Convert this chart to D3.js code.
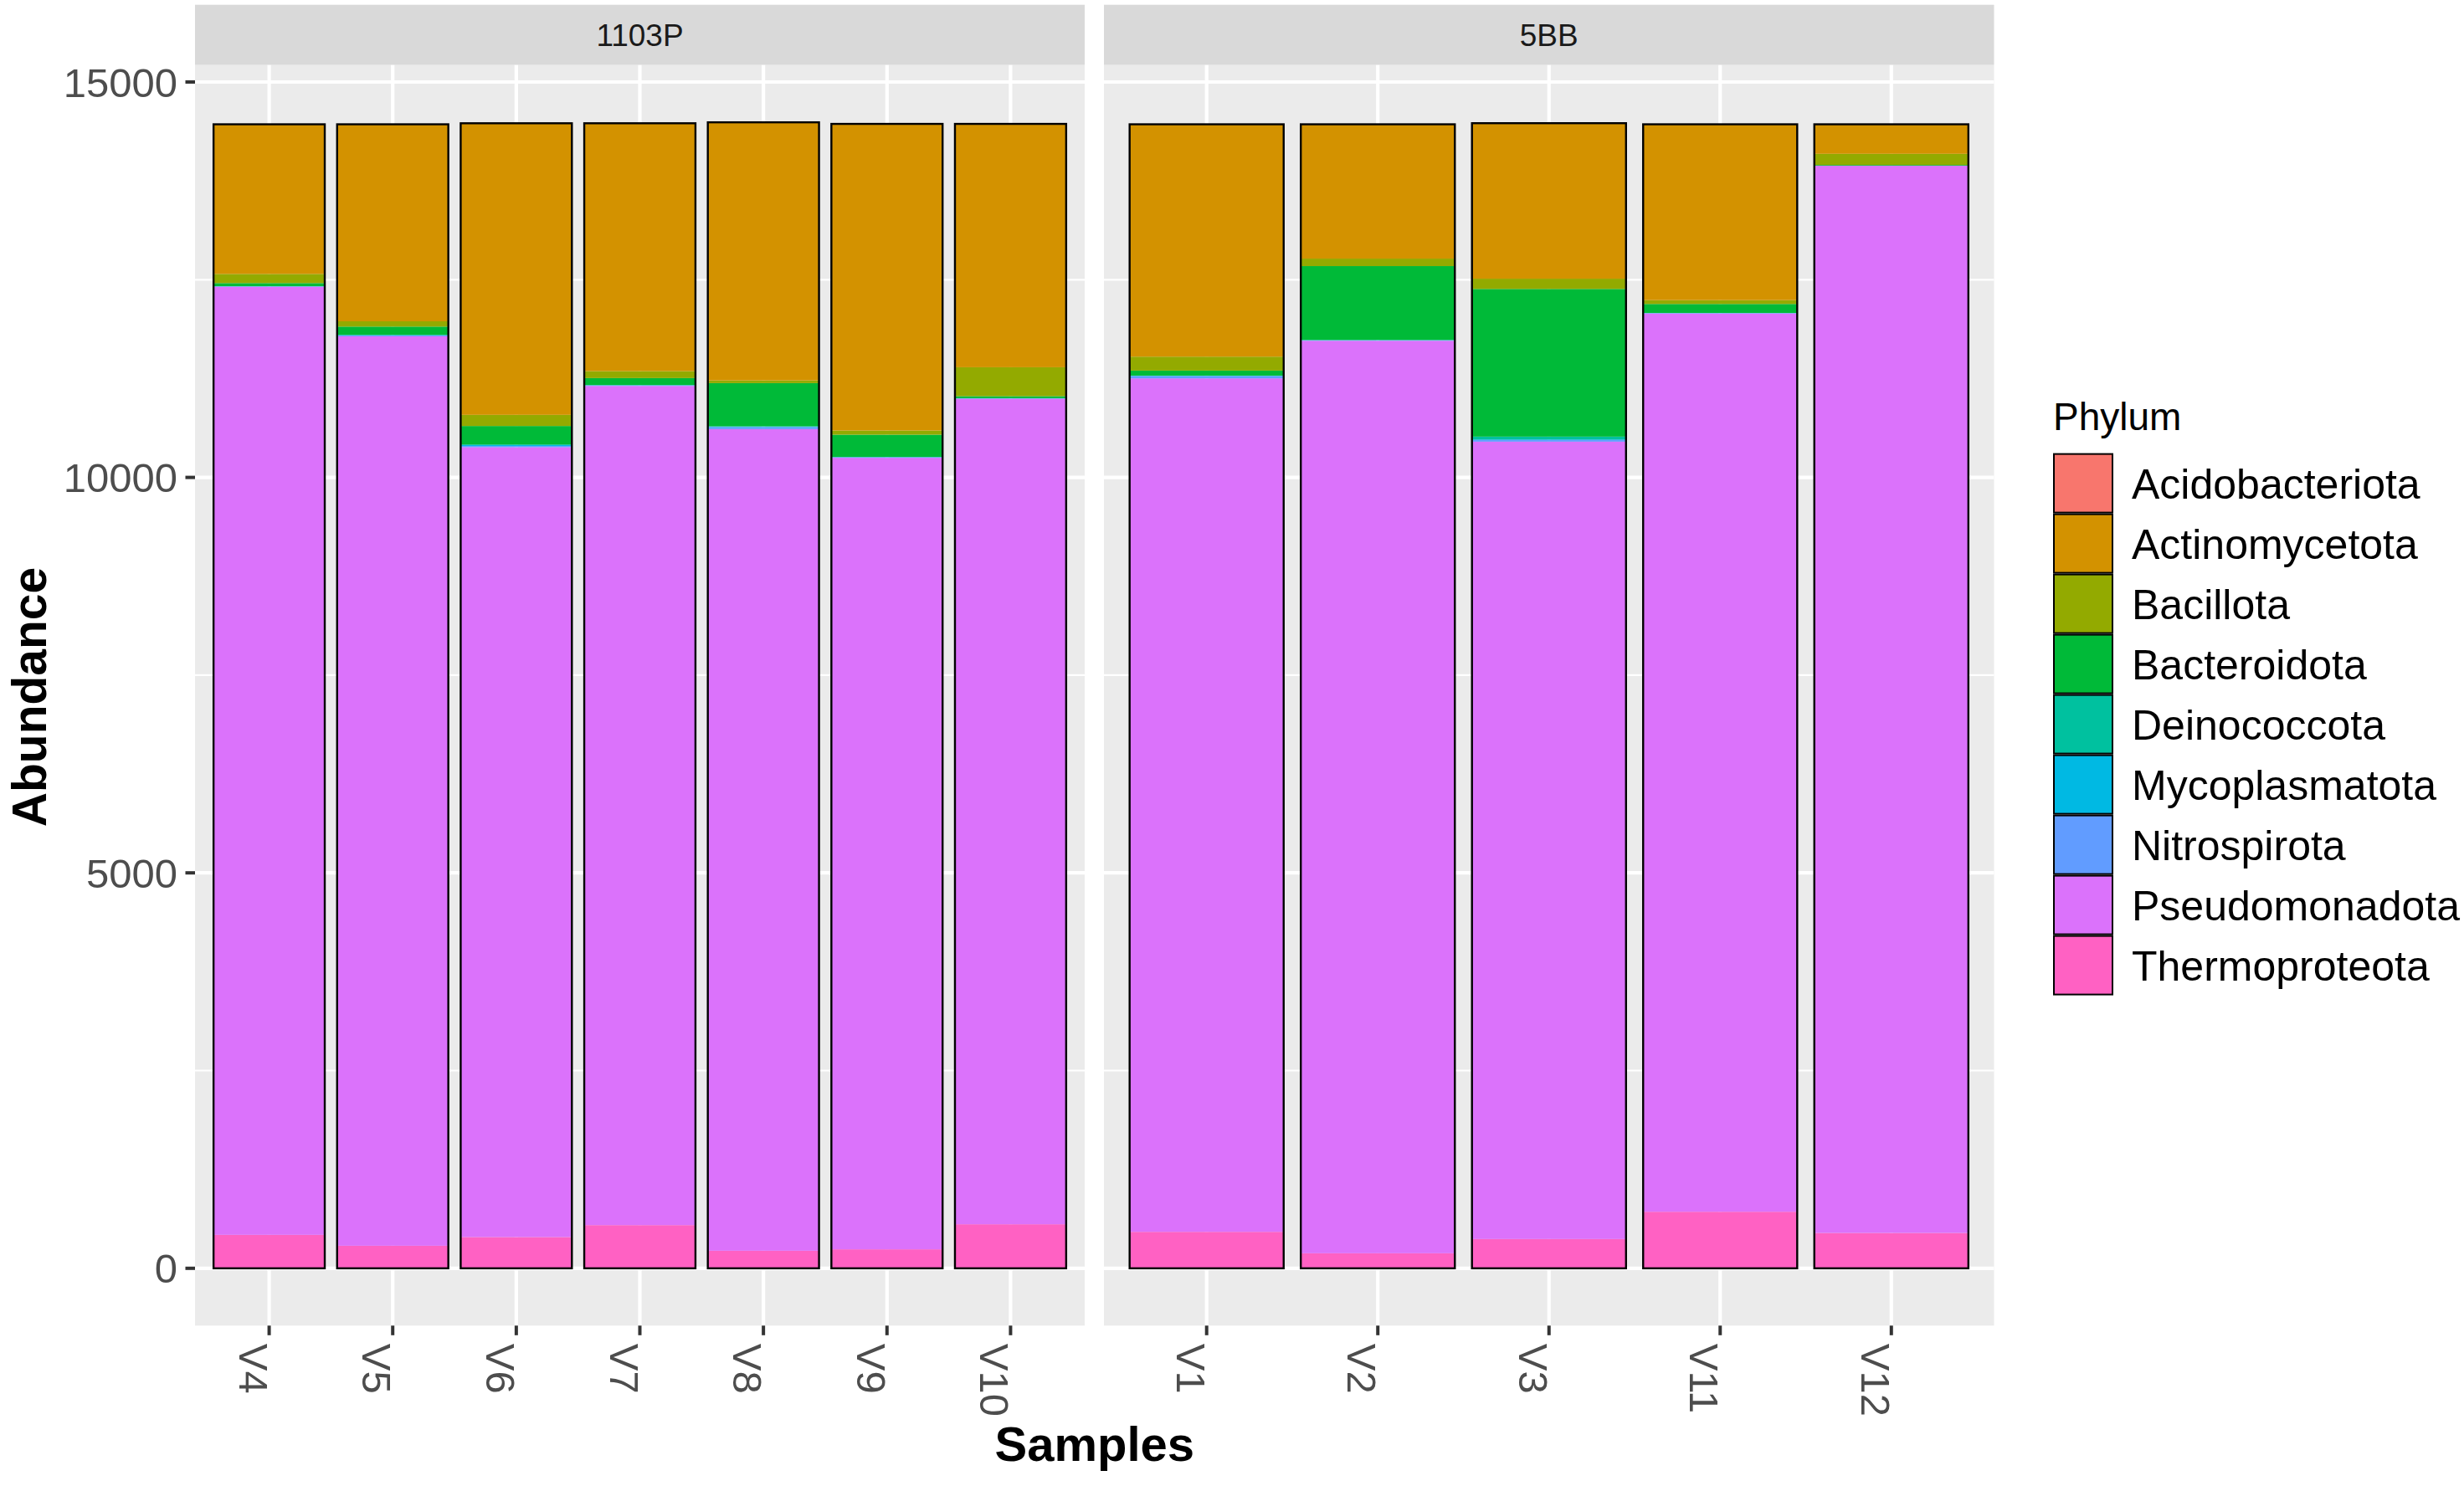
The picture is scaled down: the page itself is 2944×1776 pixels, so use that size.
<!DOCTYPE html>
<html>
<head>
<meta charset="utf-8">
<script src="https://cdn.jsdelivr.net/npm/d3@7"></script>
<style>
  html, body { margin: 0; padding: 0; background: #fff; }
  svg { display: block; }
  text { font-family: "Liberation Sans", Arial, sans-serif; }
</style>
</head>
<body>
<svg id="chart" width="2944" height="1776"></svg>
<script>
// ---------------- data ----------------
const samples = ["V4","V5","V6","V7","V8","V9","V10","V1","V2","V3","V11","V12"];
const sampleGroup = ["1103P","1103P","1103P","1103P","1103P","1103P","1103P","5BB","5BB","5BB","5BB","5BB"];
const facets = ["1103P","5BB"];
const phyla = ["Acidobacteriota","Actinomycetota","Bacillota","Bacteroidota","Deinococcota","Mycoplasmatota","Nitrospirota","Pseudomonadota","Thermoproteota"];
const phylumColors = ["#F8766D","#D39200","#93AA00","#00BA38","#00C19F","#00B9E3","#619CFF","#DB72FB","#FF61C3"];

// values per sample, same order as `samples`
const acidobacteriota = [4, 4, 4, 4, 4, 4, 4, 4, 4, 4, 4, 4];
const actinomycetota  = [1888, 2487, 3683, 3130, 3259, 3873, 3073, 2934, 1694, 1962, 2219, 369];
const bacillota       = [116, 67, 141, 88, 35, 53, 366, 176, 95, 130, 49, 141];
const bacteroidota    = [39, 105, 233, 88, 546, 281, 25, 64, 934, 1867, 113, 10];
const deinococcota    = [0, 0, 8, 0, 0, 0, 0, 0, 0, 35, 0, 0];
const mycoplasmatota  = [2, 6, 12, 3, 10, 3, 2, 5, 4, 7, 2, 0];
const nitrospirota    = [5, 12, 15, 8, 25, 8, 5, 30, 6, 22, 5, 0];
const pseudomonadota  = [11988, 11499, 9987, 10611, 10389, 10008, 10438, 10791, 11538, 10082, 11358, 13494];
const thermoproteota  = [423, 285, 395, 546, 222, 240, 557, 461, 190, 370, 715, 447];

const yTicks = [0, 5000, 10000, 15000];
const yMinorTicks = [2500, 7500, 12500];
const xTitle = "Samples";
const yTitle = "Abundance";
const legendTitle = "Phylum";

// ---------------- build table ----------------
const seriesArrays = [acidobacteriota, actinomycetota, bacillota, bacteroidota, deinococcota,
                      mycoplasmatota, nitrospirota, pseudomonadota, thermoproteota];
const table = samples.map((s, i) => {
  const row = { sample: s, group: sampleGroup[i] };
  phyla.forEach((p, j) => { row[p] = seriesArrays[j][i]; });
  return row;
});
// ggplot stacks first level on top -> stack keys bottom-up in reverse
const stackKeys = phyla.slice().reverse();
const stacked = d3.stack().keys(stackKeys)(table);
const totals = table.map(r => d3.sum(phyla, p => r[p]));
const maxTotal = d3.max(totals);

const color = d3.scaleOrdinal().domain(phyla).range(phylumColors);

// ---------------- layout ----------------
const svg = d3.select("#chart");
const panelTop = 77.7, panelBottom = 1584.3;
const stripTop = 5.7;
const panelX = [[233, 1296], [1319, 2382.5]];

const y = d3.scaleLinear()
  .domain([-0.05 * maxTotal, 1.05 * maxTotal])
  .range([panelBottom, panelTop]);

facets.forEach((f, fi) => {
  const [x0, x1] = panelX[fi];
  const fSamples = samples.filter((s, i) => sampleGroup[i] === f);
  const x = d3.scaleBand().domain(fSamples).range([x0, x1])
    .paddingInner(0.1).paddingOuter(0.15);

  const g = svg.append("g");
  // strip
  g.append("rect").attr("x", x0).attr("y", stripTop).attr("width", x1 - x0)
    .attr("height", panelTop - stripTop).attr("fill", "#D9D9D9");
  g.append("text").attr("x", (x0 + x1) / 2).attr("y", (stripTop + panelTop) / 2)
    .attr("dy", "0.36em").attr("text-anchor", "middle")
    .attr("font-size", 37).attr("fill", "#1A1A1A").text(f);

  // panel background
  g.append("rect").attr("x", x0).attr("y", panelTop).attr("width", x1 - x0)
    .attr("height", panelBottom - panelTop).attr("fill", "#EBEBEB");
  // minor grid
  g.selectAll(".ymin").data(yMinorTicks).join("line")
    .attr("x1", x0).attr("x2", x1).attr("y1", d => y(d)).attr("y2", d => y(d))
    .attr("stroke", "#fff").attr("stroke-width", 2.2);
  // major grid
  g.selectAll(".ymaj").data(yTicks).join("line")
    .attr("x1", x0).attr("x2", x1).attr("y1", d => y(d)).attr("y2", d => y(d))
    .attr("stroke", "#fff").attr("stroke-width", 4.2);
  g.selectAll(".xmaj").data(fSamples).join("line")
    .attr("x1", d => x(d) + x.bandwidth() / 2).attr("x2", d => x(d) + x.bandwidth() / 2)
    .attr("y1", panelTop).attr("y2", panelBottom)
    .attr("stroke", "#fff").attr("stroke-width", 4.2);

  // bars
  stacked.forEach(layer => {
    g.append("g").attr("fill", color(layer.key))
      .selectAll("rect")
      .data(layer.filter(d => d.data.group === f))
      .join("rect")
      .attr("x", d => x(d.data.sample))
      .attr("width", x.bandwidth())
      .attr("y", d => y(d[1]))
      .attr("height", d => Math.max(0, y(d[0]) - y(d[1])));
  });
  // bar outlines
  g.selectAll(".outline").data(table.filter(r => r.group === f)).join("rect")
    .attr("x", d => x(d.sample)).attr("width", x.bandwidth())
    .attr("y", d => y(d3.sum(phyla, p => d[p]))).attr("height", d => y(0) - y(d3.sum(phyla, p => d[p])))
    .attr("fill", "none").attr("stroke", "#000").attr("stroke-width", 2.4);

  // x axis ticks & labels
  const ax = svg.append("g");
  ax.selectAll("line").data(fSamples).join("line")
    .attr("x1", d => x(d) + x.bandwidth() / 2).attr("x2", d => x(d) + x.bandwidth() / 2)
    .attr("y1", panelBottom).attr("y2", panelBottom + 11.5)
    .attr("stroke", "#333333").attr("stroke-width", 4);
  ax.selectAll("text").data(fSamples).join("text")
    .attr("transform", d => `translate(${x(d) + x.bandwidth() / 2},${panelBottom + 21.5}) rotate(90)`)
    .attr("dy", 36).attr("text-anchor", "start")
    .attr("font-size", 49).attr("fill", "#4D4D4D").text(d => d);
});

// y axis (left of first panel)
const yAx = svg.append("g");
yAx.selectAll("line").data(yTicks).join("line")
  .attr("x1", 221.5).attr("x2", 233).attr("y1", d => y(d)).attr("y2", d => y(d))
  .attr("stroke", "#333333").attr("stroke-width", 4);
yAx.selectAll("text").data(yTicks).join("text")
  .attr("x", 212).attr("y", d => y(d)).attr("dy", "0.36em")
  .attr("text-anchor", "end").attr("font-size", 49).attr("fill", "#4D4D4D")
  .text(d => d);

// axis titles
svg.append("text")
  .attr("transform", `translate(55,${(panelTop + panelBottom) / 2 + 2}) rotate(-90)`)
  .attr("text-anchor", "middle").attr("font-size", 57).attr("font-weight", "bold")
  .attr("fill", "#000").text(yTitle);
svg.append("text")
  .attr("x", (panelX[0][0] + panelX[1][1]) / 2).attr("y", 1746)
  .attr("text-anchor", "middle").attr("font-size", 58).attr("font-weight", "bold")
  .attr("fill", "#000").text(xTitle);

// legend
const lg = svg.append("g");
const keyX = 2453, keyTop = 541.6, keyStep = 72;
lg.append("text").attr("x", keyX).attr("y", 514).attr("font-size", 46)
  .attr("fill", "#000").text(legendTitle);
const items = lg.selectAll(".item").data(phyla).join("g")
  .attr("transform", (d, i) => `translate(${keyX},${keyTop + i * keyStep})`);
items.append("rect").attr("x", 1).attr("y", 1).attr("width", keyStep - 2).attr("height", keyStep - 2)
  .attr("fill", d => color(d)).attr("stroke", "#000").attr("stroke-width", 2);
items.append("text").attr("x", 94).attr("y", keyStep / 2).attr("dy", "0.36em")
  .attr("font-size", 50).attr("fill", "#000").text(d => d);
</script>
</body>
</html>
